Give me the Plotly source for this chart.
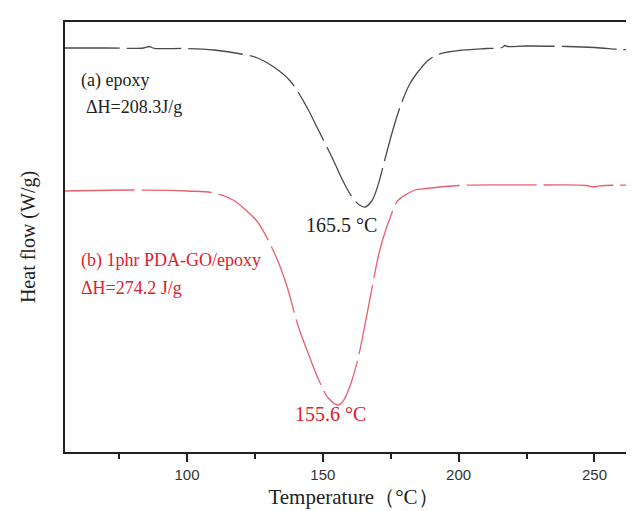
import plotly.graph_objects as go

# Temperature (°C) and heat flow (W/g, arbitrary offset)
temp_a = [55, 70, 84, 86, 88, 100, 110, 120, 126, 132, 138, 143.7, 148, 153.5, 158, 161,
          163.5, 165.5, 168, 170, 173, 176, 179, 182, 185, 188.5, 192, 196, 200, 210,
          216, 217, 218, 225, 240, 250, 260, 267.5]
flow_a = [4.04, 4.04, 4.04, 4.055, 4.037, 4.035, 4.02, 3.98, 3.94, 3.85, 3.71, 3.47, 3.24,
          2.94, 2.68, 2.54, 2.47, 2.45, 2.51, 2.64, 2.94, 3.24, 3.49, 3.68, 3.80, 3.91,
          3.97, 4.00, 4.015, 4.035, 4.045, 4.065, 4.055, 4.06, 4.055, 4.045, 4.025, 4.017]

temp_b = [55, 80, 100, 110, 117, 122, 126, 133, 137, 140.8, 145, 149, 152, 155.6, 157.5,
          160, 163, 166, 170.3, 172, 175, 177.5, 181, 184, 188, 200, 215, 230, 247,
          249.5, 252, 267.5]
flow_b = [2.61, 2.62, 2.61, 2.59, 2.52, 2.41, 2.30, 1.94, 1.64, 1.27, 0.96, 0.69, 0.54,
          0.47, 0.51, 0.66, 0.94, 1.34, 1.94, 2.12, 2.36, 2.51, 2.58, 2.62, 2.635, 2.665,
          2.672, 2.67, 2.665, 2.65, 2.662, 2.67]

x_ticks = [100, 150, 200, 250]

serif = "Liberation Serif, Times New Roman, serif"
red_txt = "#e0202c"

fig = go.Figure()
fig.add_trace(go.Scatter(x=temp_a, y=flow_a, mode="lines", line_shape="spline",
                         line=dict(color="#4a4a4a", width=1.3, dash="55px,7px"),
                         showlegend=False))
fig.add_trace(go.Scatter(x=temp_b, y=flow_b, mode="lines", line_shape="spline",
                         line=dict(color="#e8606c", width=1.3, dash="70px,7px"),
                         showlegend=False))

annos = [
    dict(x=60.25, y=3.72, text="(a) epoxy", xanchor="left", font=dict(size=18, color="#222")),
    dict(x=62.1, y=3.45, text="ΔH=208.3J/g", xanchor="left", font=dict(size=18, color="#222")),
    dict(x=156.7, y=2.27, text="165.5 °C", xanchor="center", font=dict(size=20, color="#222")),
    dict(x=60.25, y=1.92, text="(b) 1phr PDA-GO/epoxy", xanchor="left", font=dict(size=18, color=red_txt)),
    dict(x=60.25, y=1.64, text="ΔH=274.2 J/g", xanchor="left", font=dict(size=18, color=red_txt)),
    dict(x=153.0, y=0.38, text="155.6 °C", xanchor="center", font=dict(size=20, color=red_txt)),
]
for a in annos:
    a.update(xref="x", yref="y", showarrow=False, yanchor="middle")
    a["font"]["family"] = serif
    fig.add_annotation(**a)

fig.add_annotation(xref="paper", yref="paper", x=-0.064, y=0.5, text="Heat flow (W/g)",
                   textangle=-90, showarrow=False, xanchor="center", yanchor="middle",
                   font=dict(family=serif, size=20, color="#222"))

fig.update_xaxes(range=[55.1, 267.5], tickvals=x_ticks, ticks="outside", ticklen=8,
                 tickwidth=2, tickcolor="#222", showline=True, linewidth=2, linecolor="#222",
                 mirror=True, showgrid=False, zeroline=False,
                 minor=dict(ticks="outside", ticklen=5, tickwidth=2, tickcolor="#222", dtick=25, tick0=75),
                 tickfont=dict(family="Liberation Sans, Arial, sans-serif", size=15, color="#333"),
                 title=dict(text="Temperature（°C）", standoff=7,
                            font=dict(family=serif, size=21, color="#222")))
fig.update_yaxes(range=[0, 4.30], showticklabels=False, ticks="", showline=True, linewidth=2,
                 linecolor="#222", mirror=False, showgrid=False, zeroline=False)

fig.update_layout(width=634, height=511, margin=dict(l=57, r=0, t=14, b=67),
                  plot_bgcolor="white", paper_bgcolor="white")
fig.write_html("out.html")
